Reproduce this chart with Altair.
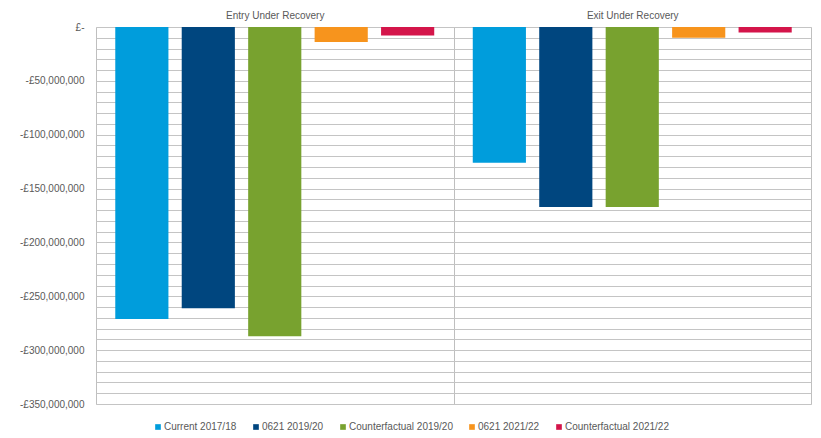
import altair as alt
import pandas as pd

groups = ["Entry Under Recovery", "Exit Under Recovery"]
series = ["Current 2017/18", "0621 2019/20", "Counterfactual 2019/20", "0621 2021/22", "Counterfactual 2021/22"]
colors = ["#009ddc", "#00467f", "#78a22f", "#f7941d", "#d4154a"]
entry_values = [-271000000, -261000000, -287000000, -14000000, -8000000]
exit_values = [-126000000, -167000000, -167000000, -10000000, -5000000]
grid_ticks = [-350000000 + 10000000 * i for i in range(36)]

rows = []
for s, v in zip(series, entry_values):
    rows.append({"group": groups[0], "series": s, "value": v})
for s, v in zip(series, exit_values):
    rows.append({"group": groups[1], "series": s, "value": v})
df = pd.DataFrame(rows)

FONT = "Liberation Sans"
GREY = "#595959"

label_expr = ("datum.value == 0 ? '£-' : (datum.value % 50000000 == 0 ? "
              "'-£' + format(abs(datum.value), ',') : '')")

chart = alt.Chart(df).mark_bar().encode(
    x=alt.X("group:N", sort=groups, title=None,
            scale=alt.Scale(paddingInner=0, paddingOuter=0),
            axis=alt.Axis(orient="top", ticks=False, domain=False, labelAngle=0,
                          labelPadding=7, labelFont=FONT, labelFontSize=10,
                          labelColor=GREY, grid=True, tickBand="extent",
                          gridColor="#bfbfbf", gridWidth=1)),
    xOffset=alt.XOffset("series:N", sort=series,
                        scale=alt.Scale(paddingInner=0.2, paddingOuter=0.29)),
    y=alt.Y("value:Q", title=None,
            scale=alt.Scale(domain=[-350000000, 0], nice=False),
            axis=alt.Axis(values=grid_ticks, labelExpr=label_expr, ticks=False,
                          domain=False, labelPadding=12, labelFont=FONT,
                          labelFontSize=10, labelColor=GREY, gridColor="#c4c4c4",
                          gridWidth=1, labelOverlap=False)),
    color=alt.Color("series:N", sort=series,
                    scale=alt.Scale(domain=series, range=colors),
                    legend=alt.Legend(title=None, orient="none", direction="horizontal",
                                      legendX=57, legendY=395, symbolType="square",
                                      symbolSize=32, symbolStrokeWidth=0,
                                      labelFont=FONT, labelFontSize=10,
                                      labelColor=GREY, columnPadding=14,
                                      labelOffset=1)),
).properties(
    width=715,
    height=377,
    autosize=alt.AutoSizeParams(type="none"),
    padding={"left": 88, "top": 19, "right": 2, "bottom": 33},
).configure_view(
    stroke="#bfbfbf", strokeWidth=1
).configure(background="white")

chart.save("out.html", embed_options={"renderer": "svg", "actions": False})
